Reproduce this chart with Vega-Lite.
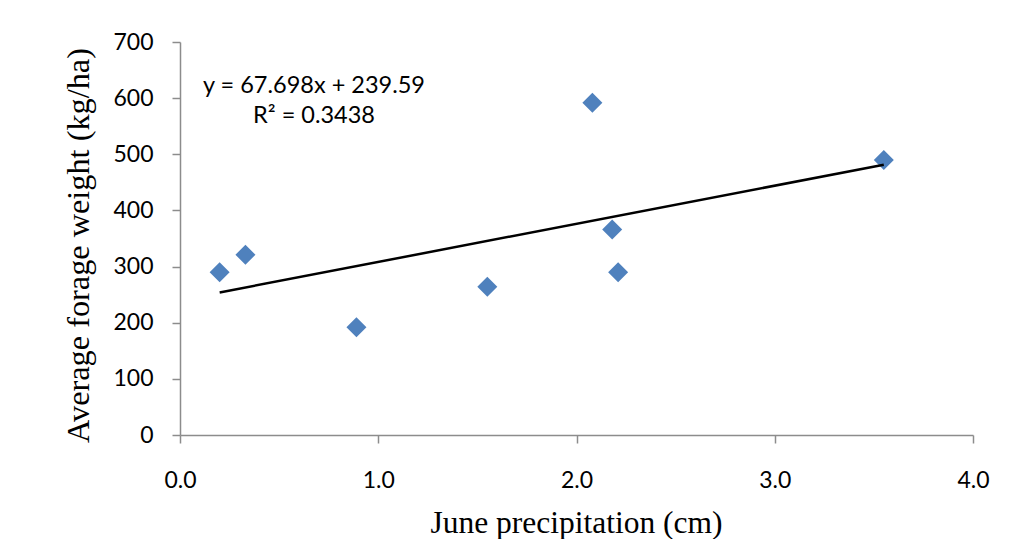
{
  "$schema": "https://vega.github.io/schema/vega-lite/v6.json",
  "width": 793,
  "height": 393,
  "autosize": "none",
  "padding": {"left": 180, "top": 42, "right": 52, "bottom": 104},
  "background": "white",
  "config": {
    "view": {"stroke": null},
    "axis": {
      "grid": false,
      "domainColor": "#8c8c8c",
      "domainWidth": 1.5,
      "tickColor": "#8c8c8c",
      "tickWidth": 1.5,
      "tickSize": 8,
      "labelFont": "Lato",
      "labelFontSize": 23,
      "labelColor": "#000000",
      "labelFlush": false,
      "labelOverlap": false,
      "titleFont": "Liberation Serif",
      "titleFontSize": 31.5,
      "titleFontWeight": "normal",
      "titleColor": "#000000"
    }
  },
  "data": {
    "values": [
      {"june_precip_cm": 0.20, "forage_kg_ha": 290},
      {"june_precip_cm": 0.33, "forage_kg_ha": 321},
      {"june_precip_cm": 0.89, "forage_kg_ha": 192},
      {"june_precip_cm": 1.55, "forage_kg_ha": 264},
      {"june_precip_cm": 2.08, "forage_kg_ha": 592},
      {"june_precip_cm": 2.18, "forage_kg_ha": 366},
      {"june_precip_cm": 2.21, "forage_kg_ha": 290},
      {"june_precip_cm": 3.55, "forage_kg_ha": 490}
    ]
  },
  "layer": [
    {
      "mark": {"type": "point", "shape": "diamond", "filled": true, "color": "#4F81BD", "opacity": 1, "size": 400, "strokeWidth": 0},
      "encoding": {
        "x": {
          "field": "june_precip_cm", "type": "quantitative",
          "scale": {"domain": [0, 4], "nice": false, "zero": true},
          "axis": {
            "title": "June precipitation (cm)",
            "values": [0, 1, 2, 3, 4],
            "format": ".1f",
            "labelPadding": 44,
            "labelBaseline": "alphabetic",
            "titleX": 396,
            "titleY": 97,
            "titleBaseline": "alphabetic",
            "titleAlign": "center",
            "titleAnchor": null
          }
        },
        "y": {
          "field": "forage_kg_ha", "type": "quantitative",
          "scale": {"domain": [0, 700], "nice": false},
          "axis": {
            "title": "Average forage weight (kg/ha)",
            "values": [0, 100, 200, 300, 400, 500, 600, 700],
            "labelPadding": 19,
            "titleFontSize": 32.3,
            "titleX": -92,
            "titleY": 203,
            "titleAngle": 270,
            "titleBaseline": "alphabetic",
            "titleAlign": "center",
            "titleAnchor": null
          }
        }
      }
    },
    {
      "transform": [{"regression": "forage_kg_ha", "on": "june_precip_cm", "method": "linear"}],
      "mark": {"type": "line", "color": "#000000", "strokeWidth": 2.5},
      "encoding": {
        "x": {"field": "june_precip_cm", "type": "quantitative"},
        "y": {"field": "forage_kg_ha", "type": "quantitative"}
      }
    },
    {
      "data": {"values": [{"label": "y = 67.698x + 239.59"}]},
      "mark": {"type": "text", "font": "Lato", "fontSize": 23.5, "align": "center", "baseline": "alphabetic", "color": "#000000"},
      "encoding": {
        "text": {"field": "label"},
        "x": {"datum": 0.676, "type": "quantitative"},
        "y": {"datum": 610, "type": "quantitative"}
      }
    },
    {
      "data": {"values": [{"label": "R² = 0.3438"}]},
      "mark": {"type": "text", "font": "Lato", "fontSize": 23.5, "align": "center", "baseline": "alphabetic", "color": "#000000"},
      "encoding": {
        "text": {"field": "label"},
        "x": {"datum": 0.676, "type": "quantitative"},
        "y": {"datum": 555, "type": "quantitative"}
      }
    }
  ]
}
